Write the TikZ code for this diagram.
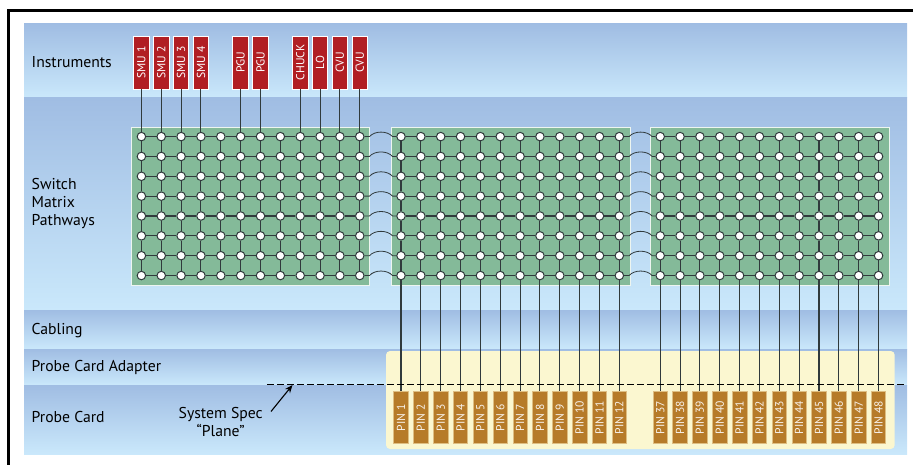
\documentclass[tikz,border=0pt]{standalone}
\usepackage{fontspec}
\setmainfont{PT Sans}
\usepackage{tikz}
\usetikzlibrary{arrows.meta}
\definecolor{bandtop}{RGB}{160,189,227}
\definecolor{bandbot}{RGB}{202,232,251}
\definecolor{swgreen}{RGB}{132,186,153}
\definecolor{instred}{RGB}{177,30,35}
\definecolor{pinbrown}{RGB}{182,123,41}
\definecolor{pinedge}{RGB}{222,190,130}
\definecolor{adaptyellow}{RGB}{251,247,208}
\definecolor{wiregray}{RGB}{48,58,60}
\tikzstyle{band} = [top color=bandtop, bottom color=bandbot, draw=none]
\tikzstyle{panel} = [fill=swgreen, draw=white!85!swgreen, line width=1pt]
\tikzstyle{rowlabel} = [anchor=west, inner sep=0pt, align=left, font=\fontsize{15.7}{18}\selectfont]
\tikzstyle{xpoint} = [circle, fill=white, draw=wiregray, line width=1pt, inner sep=0pt, minimum size=8.5pt]
\tikzstyle{instbox} = [rotate=90, fill=instred, draw=white, line width=0.9pt, text=white, inner sep=0pt, minimum width=53pt, minimum height=15.5pt, font=\fontsize{11.6}{12}\selectfont]
\tikzstyle{pinbox} = [rotate=90, fill=pinbrown, draw=pinedge, line width=0.7pt, text=white!90!pinbrown, inner sep=0pt, minimum width=52pt, minimum height=14.5pt, font=\fontsize{11.6}{12}\selectfont]
\tikzstyle{wire} = [wiregray, line width=1.05pt]
\begin{document}
\begin{tikzpicture}[x=1pt, y=-1pt]
\useasboundingbox (0,0) rectangle (913,465);

% Outer frame
\draw[line width=2.5pt, line cap=butt] (8.7,465) -- (8.7,10.7) -- (913,10.7);

% Layer bands
\shade[band] (24,24) rectangle (907,98);
\shade[band] (24,98) rectangle (907,310);
\shade[band] (24,310) rectangle (907,349);
\shade[band] (24,349) rectangle (907,385);
\shade[band] (24,385) rectangle (907,454);

% Band labels
\node[rowlabel] (instruments) at (31.5,62) {Instruments};
\node[rowlabel] (pathways) at (31.5,203.7) {Switch\\Matrix\\Pathways};
\node[rowlabel] (cabling) at (31.5,331) {Cabling};
\node[rowlabel] (adapter) at (31.5,367) {Probe Card Adapter};
\node[rowlabel] (probecard) at (31.5,417.5) {Probe Card};

% Switch panels
\draw[panel] (131.7,127.3) rectangle (369.7,285.7);
\draw[panel] (391,127.3) rectangle (630,285.7);
\draw[panel] (650.5,127.3) rectangle (889,285.7);

% Adapter block
\fill[adaptyellow, rounded corners=4pt] (386,351) rectangle (894.7,449);

% Crosspoints
\foreach \base/\first in {141.4/1, 401/13, 660.2/25} {
  \foreach \i in {0,...,11} {
    \foreach \r in {1,...,8} {
      \pgfmathtruncatemacro{\col}{\first+\i}
      \node[xpoint] (pt-\col-\r) at ({\base+19.85*\i},{136.6+19.85*(\r-1)}) {};
    }
  }
}

% Grid lines inside each panel
\foreach \first in {1,13,25} {
  \foreach \i in {0,...,11} {
    \pgfmathtruncatemacro{\col}{\first+\i}
    \pgfmathtruncatemacro{\nxt}{\col+1}
    \foreach \r in {1,...,7} {
      \pgfmathtruncatemacro{\low}{\r+1}
      \draw[wire] (pt-\col-\r) -- (pt-\col-\low);
    }
    \ifnum\i<11
      \foreach \r in {1,...,8} {
        \draw[wire] (pt-\col-\r) -- (pt-\nxt-\r);
      }
    \fi
  }
}

% Jumps over the gaps
\foreach \from/\to in {12/13, 24/25} {
  \foreach \r in {1,...,8} {
    \draw[wire, line width=0.8pt] (pt-\from-\r.east) -- ++(5,0) .. controls +(5,-6) and +(-5,-6) .. ++(23,0) -- (pt-\to-\r.west);
  }
}

% Instruments
\foreach \col/\lbl in {1/SMU 1, 2/SMU 2, 3/SMU 3, 4/SMU 4, 6/PGU, 7/PGU, 9/CHUCK, 10/LO, 11/CVU, 12/CVU} {
  \node[instbox] (inst-\col) at ({141.4+19.85*(\col-1)},62.5) {\lbl};
  \draw[wire] (inst-\col.west) -- (pt-\col-1);
}

% Pins
\foreach \col/\lbl in {13/1, 14/2, 15/3, 16/4, 17/5, 18/6, 19/7, 20/8, 21/9, 22/10, 23/11, 24/12,
    25/37, 26/38, 27/39, 28/40, 29/41, 30/42, 31/43, 32/44, 33/45, 34/46, 35/47, 36/48} {
  \pgfmathsetmacro{\pinx}{\col<25 ? 401+19.85*(\col-13) : 660.2+19.85*(\col-25)}
  \node[pinbox] (pin-\col) at (\pinx,417.5) {PIN \lbl};
  \draw[wire] (pt-\col-8) -- (pin-\col.east);
}

% System spec plane
\coordinate (planeL) at (267,384.5);
\coordinate (planeR) at (907,384.5);
\draw[dashed, dash pattern=on 6.5pt off 3.5pt, line width=1.1pt] (planeL) -- (planeR);
\node[align=center, inner sep=0pt, font=\fontsize{15.7}{17.7}\selectfont] (spec) at (220.7,422) {System Spec\\“Plane”};
\coordinate (specTail) at (271,411.5);
\coordinate (specTip) at (292.5,385);
\draw[-{Stealth[length=8pt,width=6.5pt]}, line width=1.1pt] (specTail) -- (specTip);
\end{tikzpicture}
\end{document}
